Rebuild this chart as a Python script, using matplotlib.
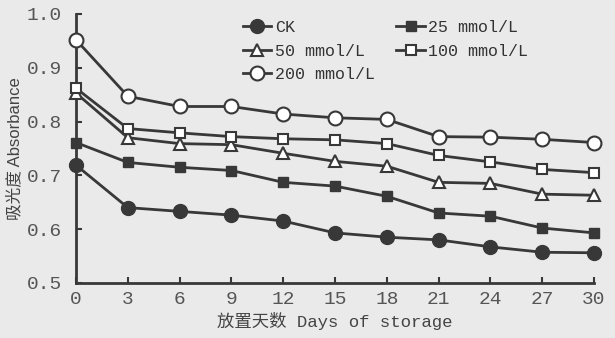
import matplotlib
matplotlib.use("Agg")
import matplotlib.pyplot as plt

days = [0, 3, 6, 9, 12, 15, 18, 21, 24, 27, 30]

ck = [0.719, 0.640, 0.633, 0.626, 0.615, 0.593, 0.585, 0.580, 0.567, 0.557, 0.556]
c25 = [0.761, 0.724, 0.715, 0.709, 0.687, 0.680, 0.661, 0.630, 0.624, 0.602, 0.593]
c50 = [0.853, 0.770, 0.759, 0.757, 0.741, 0.726, 0.717, 0.687, 0.685, 0.665, 0.663]
c100 = [0.862, 0.787, 0.779, 0.772, 0.768, 0.766, 0.759, 0.737, 0.725, 0.711, 0.705]
c200 = [0.952, 0.847, 0.828, 0.828, 0.814, 0.807, 0.804, 0.772, 0.771, 0.767, 0.761]

labels = ["CK", "25 mmol/L", "50 mmol/L", "100 mmol/L", "200 mmol/L"]

bg = "#eaeaea"
ink = "#383838"
mono = ["Liberation Mono", "Noto Sans CJK SC"]

fig = plt.figure(figsize=(6.15, 3.38), dpi=100, facecolor=bg)
ax = fig.add_axes([0.1236, 0.163, 0.8424, 0.7956], facecolor=bg)

kw = dict(color=ink, lw=2.0, clip_on=False, zorder=3)
h_ck, = ax.plot(days, ck, marker="o", ms=10, mfc=ink, mec=ink, label=labels[0], **kw)
h25, = ax.plot(days, c25, marker="s", ms=7.5, mfc=ink, mec=ink, label=labels[1], **kw)
h50, = ax.plot(days, c50, marker="^", ms=9, mfc="white", mec=ink, mew=1.5, label=labels[2], **kw)
h100, = ax.plot(days, c100, marker="s", ms=7.5, mfc="white", mec=ink, mew=1.5, label=labels[3], **kw)
h200, = ax.plot(days, c200, marker="o", ms=10, mfc="white", mec=ink, mew=1.5, label=labels[4], **kw)

ax.set_xlim(0, 30)
ax.set_ylim(0.5, 1.0)
ax.set_xticks(days)
ax.set_yticks([0.5, 0.6, 0.7, 0.8, 0.9, 1.0])
ax.set_yticklabels(["0.5", "0.6", "0.7", "0.8", "0.9", "1.0"])

for s in ["top", "right"]:
    ax.spines[s].set_visible(False)
for s in ["left", "bottom"]:
    ax.spines[s].set_color(ink)
    ax.spines[s].set_linewidth(2.0)

ax.tick_params(direction="in", length=4, width=1.5, color=ink, labelcolor="#555555", labelsize=14)
for t in ax.get_xticklabels() + ax.get_yticklabels():
    t.set_family(mono)
ax.tick_params(axis="y", pad=10)
ax.tick_params(axis="x", pad=6)

ax.set_xlabel("放置天数 Days of storage", family=mono, fontsize=12.5, color="#444444", labelpad=3)
ax.set_ylabel("吸光度 Absorbance", family=["Liberation Sans", "Noto Sans CJK SC"], fontsize=12,
              color="#444444", labelpad=3)

ax.legend([h_ck, h50, h200, h25, h100],
          [labels[0], labels[2], labels[4], labels[1], labels[3]],
          ncol=2, loc="upper left", bbox_to_anchor=(0.3, 1.02), frameon=False,
          prop={"family": "Liberation Mono", "size": 12}, handlelength=1.7,
          handletextpad=0.2, columnspacing=1.3, labelspacing=0.5, markerscale=1.0,
          borderaxespad=0.3, labelcolor="#333333")

fig.savefig("out.png", dpi=100, facecolor=bg)
